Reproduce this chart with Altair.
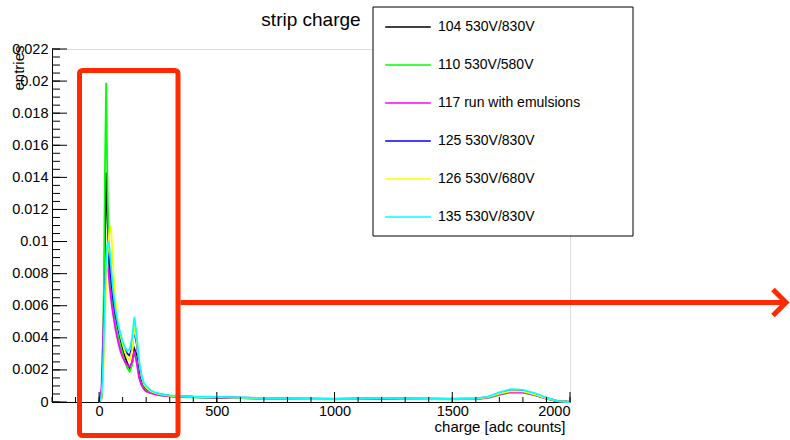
import altair as alt
import numpy as np
import pandas as pd

# ---------------- data ----------------
charge = [0, 10, 15, 20, 25, 30, 35, 40, 45, 50, 55, 60,
          70, 80, 90, 100, 110, 120, 130, 140, 150, 160, 170, 180, 190, 200,
          220, 240, 260, 280, 300, 350, 400, 450, 500,
          600, 700, 800, 900, 1000, 1100, 1200, 1300, 1400, 1500, 1600,
          1650, 1700, 1750, 1800, 1850, 1900, 1950, 2000]

runs = ["104 530V/830V", "110 530V/580V", "117 run with emulsions",
        "125 530V/830V", "126 530V/680V", "135 530V/830V"]
run_colors = ["#000000", "#00ff00", "#ff00ff", "#0000ff", "#ffff00", "#00ffff"]

run104 = [0.0, 0.0002, 0.0018, 0.0050, 0.0100, 0.0143, 0.0120, 0.0093, 0.0080, 0.0072, 0.0066, 0.0061,
          0.0053, 0.0046, 0.0039, 0.0033, 0.0028, 0.0024, 0.0021, 0.0024, 0.0033, 0.0029, 0.0019, 0.0013, 0.00095, 0.00075,
          0.00060, 0.00050, 0.00045, 0.00040, 0.00037, 0.00033, 0.00030, 0.00029, 0.00028,
          0.00025, 0.00022, 0.00020, 0.00019, 0.00018, 0.00020, 0.00021, 0.00020, 0.00019, 0.00018, 0.00020,
          0.00027, 0.00050, 0.00065, 0.00062, 0.00045, 0.00022, 0.00004, 0.0]
run110 = [0.0, 0.0003, 0.0024, 0.0070, 0.0145, 0.0199, 0.0140, 0.0102, 0.0084, 0.0073, 0.0066, 0.0060,
          0.0050, 0.0042, 0.0035, 0.0030, 0.0025, 0.0021, 0.0019, 0.0023, 0.0031, 0.0026, 0.0016, 0.0011, 0.00085, 0.00070,
          0.00055, 0.00047, 0.00042, 0.00038, 0.00035, 0.00031, 0.00029, 0.00028, 0.00027,
          0.00024, 0.00021, 0.00019, 0.00018, 0.00017, 0.00019, 0.00020, 0.00019, 0.00018, 0.00017, 0.00019,
          0.00025, 0.00045, 0.00060, 0.00058, 0.00042, 0.00020, 0.00004, 0.0]
run117 = [0.0, 0.0008, 0.0032, 0.0054, 0.0070, 0.0081, 0.0086, 0.0080, 0.0072, 0.0065, 0.0059, 0.0054,
          0.0045, 0.0038, 0.0032, 0.0028, 0.0025, 0.0023, 0.0022, 0.0025, 0.0032, 0.0024, 0.0015, 0.00105, 0.00080, 0.00065,
          0.00055, 0.00047, 0.00042, 0.00038, 0.00035, 0.00032, 0.00030, 0.00029, 0.00028,
          0.00025, 0.00022, 0.00020, 0.00019, 0.00018, 0.00020, 0.00021, 0.00020, 0.00019, 0.00018, 0.00019,
          0.00026, 0.00048, 0.00062, 0.00060, 0.00044, 0.00021, 0.00004, 0.0]
run125 = [0.0, 0.0003, 0.0016, 0.0040, 0.0068, 0.0088, 0.0094, 0.0092, 0.0086, 0.0078, 0.0071, 0.0064,
          0.0054, 0.0047, 0.0041, 0.0036, 0.0032, 0.0030, 0.0029, 0.0034, 0.0045, 0.0036, 0.0023, 0.0015, 0.0011, 0.00090,
          0.00068, 0.00056, 0.00049, 0.00044, 0.00040, 0.00036, 0.00033, 0.00032, 0.00031,
          0.00027, 0.00024, 0.00022, 0.00021, 0.00020, 0.00022, 0.00023, 0.00022, 0.00021, 0.00020, 0.00022,
          0.00030, 0.00055, 0.00072, 0.00070, 0.00050, 0.00025, 0.00005, 0.0]
run126 = [0.0, 0.0002, 0.0010, 0.0028, 0.0052, 0.0074, 0.0090, 0.0100, 0.0108, 0.0110, 0.0098, 0.0083,
          0.0063, 0.0050, 0.0042, 0.0036, 0.0031, 0.0028, 0.0026, 0.0032, 0.0047, 0.0038, 0.0025, 0.0016, 0.0011, 0.00090,
          0.00066, 0.00055, 0.00048, 0.00043, 0.00039, 0.00035, 0.00032, 0.00031, 0.00030,
          0.00026, 0.00023, 0.00021, 0.00020, 0.00019, 0.00021, 0.00022, 0.00021, 0.00020, 0.00019, 0.00021,
          0.00029, 0.00052, 0.00068, 0.00066, 0.00048, 0.00023, 0.00005, 0.0]
run135 = [0.0, 0.0003, 0.0015, 0.0039, 0.0069, 0.0090, 0.0098, 0.0100, 0.0095, 0.0086, 0.0077, 0.0069,
          0.0057, 0.0049, 0.0043, 0.0038, 0.0034, 0.0032, 0.0033, 0.0040, 0.0053, 0.0041, 0.0026, 0.0017, 0.0012, 0.0010,
          0.00072, 0.00058, 0.00050, 0.00045, 0.00041, 0.00037, 0.00034, 0.00033, 0.00032,
          0.00028, 0.00025, 0.00023, 0.00022, 0.00021, 0.00023, 0.00024, 0.00023, 0.00022, 0.00021, 0.00023,
          0.00032, 0.00060, 0.00080, 0.00076, 0.00055, 0.00027, 0.00005, 0.0]

series = [run104, run110, run117, run125, run126, run135]

x_major = [0, 500, 1000, 1500, 2000]
x_minor = list(range(-200, 2001, 100))
y_major = [0, 0.002, 0.004, 0.006, 0.008, 0.01, 0.012, 0.014, 0.016, 0.018, 0.02, 0.022]
y_minor = [round(v, 4) for v in np.arange(0, 0.02201, 0.0005)]

# ---------------- build table ----------------
rows = []
for name, vals in zip(runs, series):
    for c, v in zip(charge, vals):
        rows.append({"run": name, "charge": c, "entries": v})
df = pd.DataFrame(rows)

W, H = 518, 353
FONT = "Liberation Sans"
RED = "#ff2a00"

xscale = alt.Scale(domain=[-200, 2000], nice=False, zero=False)
yscale = alt.Scale(domain=[0, 0.022], nice=False, zero=False)
cscale = alt.Scale(domain=runs, range=run_colors)

x_axis = alt.Axis(values=x_major, format="d", title="charge [adc counts]",
                  ticks=False, grid=False, domainColor="black", domainWidth=1,
                  labelOverlap=False,
                  labelFont=FONT, labelFontSize=14.5, labelColor="black", labelPadding=2,
                  titleFont=FONT, titleFontSize=15, titleFontWeight="normal", titleColor="black",
                  titleAnchor="end", titleAlign="right", titleBaseline="alphabetic",
                  titleX=513, titleY=29)
y_axis = alt.Axis(values=y_major, format="~g", title="entries",
                  ticks=False, grid=False, domainColor="black", domainWidth=1,
                  labelOverlap=False,
                  labelFont=FONT, labelFontSize=14.5, labelColor="black", labelPadding=4,
                  titleFont=FONT, titleFontSize=15, titleFontWeight="normal", titleColor="black",
                  titleAngle=270, titleAlign="right", titleBaseline="alphabetic",
                  titleX=-29, titleY=-4)

x_enc = alt.X("charge:Q", scale=xscale, axis=x_axis)
y_enc = alt.Y("entries:Q", scale=yscale, axis=y_axis)
c_enc = alt.Color("run:N", scale=cscale,
                  legend=alt.Legend(title=None, orient="none", legendX=336, legendY=-42,
                                    padding=0, symbolType="M-1.2,0H1.2", symbolSize=1444,
                                    symbolStrokeWidth=1.4, rowPadding=11, labelOffset=10,
                                    labelFont=FONT, labelFontSize=14, labelColor="black",
                                    labelLimit=300))

layers = []
for name in runs:
    layers.append(
        alt.Chart(df).transform_filter(alt.datum.run == name)
        .mark_line(strokeWidth=1.8)
        .encode(x=x_enc, y=y_enc, color=c_enc)
    )

# inner axis ticks (ROOT style)
ymaj_df = pd.DataFrame({"entries": y_major})
ymin_df = pd.DataFrame({"entries": y_minor})
xmaj_df = pd.DataFrame({"charge": x_major})
xmin_df = pd.DataFrame({"charge": x_minor})

tick_y_major = alt.Chart(ymaj_df).mark_rule(color="black", strokeWidth=1).encode(
    y=y_enc, x=alt.value(0), x2=alt.value(15))
tick_y_minor = alt.Chart(ymin_df).mark_rule(color="black", strokeWidth=1).encode(
    y=y_enc, x=alt.value(0), x2=alt.value(8))
tick_x_major = alt.Chart(xmaj_df).mark_rule(color="black", strokeWidth=1).encode(
    x=x_enc, y=alt.value(H), y2=alt.value(H - 10))
tick_x_minor = alt.Chart(xmin_df).mark_rule(color="black", strokeWidth=1).encode(
    x=x_enc, y=alt.value(H), y2=alt.value(H - 5))

# legend box
legend_box = alt.Chart(ymaj_df.head(1)).mark_rect(fill="white", stroke="black", strokeWidth=1).encode(
    x=alt.value(321), x2=alt.value(581), y=alt.value(-42), y2=alt.value(187))

# red annotation: box around the peak and arrow
red_box = alt.Chart(ymaj_df.head(1)).mark_rect(fill=None, filled=False, stroke=RED, strokeWidth=5,
                                               cornerRadius=3).encode(
    x=alt.value(27.5), x2=alt.value(126), y=alt.value(21.5), y2=alt.value(386.5))
red_arrow = alt.Chart(ymaj_df.head(1)).mark_rule(color=RED, strokeWidth=5).encode(
    x=alt.value(128.5), x2=alt.value(732), y=alt.value(253.5))
red_head = alt.Chart(ymaj_df.head(1)).mark_point(shape="M-1,-1L0,0L-1,1", filled=False, stroke=RED,
                                                 strokeWidth=5, size=676, opacity=1,
                                                 strokeJoin="miter", strokeCap="butt").encode(
    x=alt.value(734), y=alt.value(253.5))

chart = alt.layer(
    *layers, tick_y_major, tick_y_minor, tick_x_major, tick_x_minor,
    legend_box, red_box, red_arrow, red_head
).properties(
    width=W, height=H,
    title=alt.TitleParams("strip charge", font=FONT, fontSize=19, fontWeight="normal",
                          color="black", anchor="middle", baseline="alphabetic", offset=0, dy=38),
    autosize=alt.AutoSizeParams(type="none"),
    padding={"left": 52, "top": 49, "right": 220, "bottom": 38},
).configure_view(
    stroke="#222", strokeWidth=1
).configure(background="white")

chart.save("out.html", embed_options={"renderer": "svg", "actions": False})
